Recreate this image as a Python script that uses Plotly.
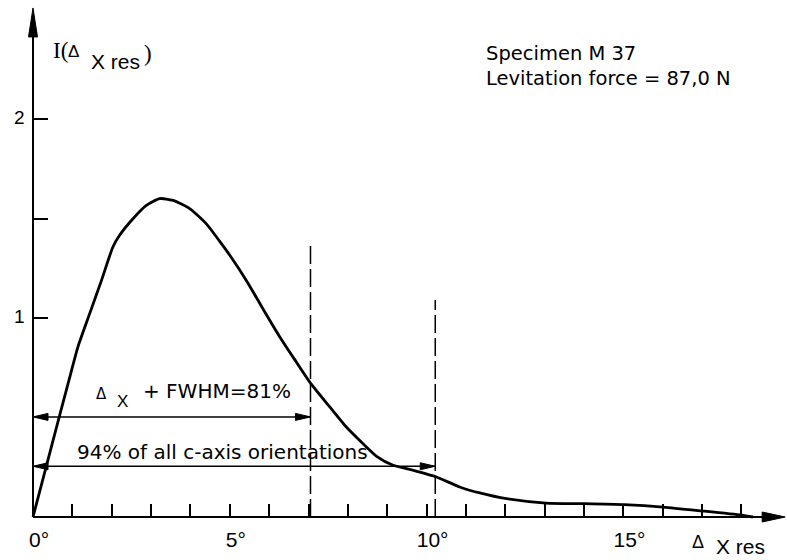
import plotly.graph_objects as go

# ---------------- data ----------------
angle_deg = [0, 0.49, 0.98, 1.14, 1.44, 1.74, 2.03, 2.20, 2.54, 2.88, 3.22, 3.56,
             3.98, 4.40, 4.74, 5.00, 5.42, 5.84, 6.27, 6.69, 7.06, 7.54, 7.96,
             8.34, 8.73, 9.15, 9.65, 10.25, 10.84, 11.35, 12.03, 13.03, 14.02,
             15.02, 16.01, 17.01, 18.00, 18.29]
intensity = [0, 0.37, 0.737, 0.854, 1.022, 1.189, 1.357, 1.416, 1.499, 1.566,
             1.600, 1.591, 1.550, 1.474, 1.386, 1.315, 1.189, 1.047, 0.905,
             0.779, 0.670, 0.553, 0.452, 0.377, 0.305, 0.260, 0.235, 0.201,
             0.151, 0.121, 0.092, 0.070, 0.067, 0.062, 0.050, 0.030, 0.009, 0.0]

x_tick_vals = list(range(0, 19))
x_tick_named = {0: "0°", 5: "5°", 10: "10°", 15: "15°"}
y_tick_vals = [1, 1.5, 2]
y_tick_text = ["1", "", "2"]

fwhm_limit = 7.05      # deg, dashed line / arrow end
fwhm_level = 0.503
fwhm_line_top = 1.38
c94_limit = 10.22
c94_level = 0.255
c94_line_top = 1.09
x_axis_end = 19.11
y_axis_end = 2.558

# ---------------- geometry ----------------
W, H = 787, 560
ML, MR, MT, MB = 23, 0, 4, 33
PX_PER_DEG = 39.36
PX_PER_UNIT = 199.0
X0_PX = 33.0
Y0_PX = 517.0
plot_w = W - ML - MR
plot_h = H - MT - MB
x_min = -(X0_PX - ML) / PX_PER_DEG
x_max = x_min + plot_w / PX_PER_DEG
y_min = -(H - MB - Y0_PX) / PX_PER_UNIT
y_max = y_min + plot_h / PX_PER_UNIT

fig = go.Figure()
fig.add_trace(go.Scatter(
    x=angle_deg, y=intensity, mode="lines",
    line=dict(color="black", width=2.8, shape="spline", smoothing=0.6),
    hoverinfo="skip", showlegend=False))

blk = "black"
shapes = []
# axes
shapes.append(dict(type="line", xref="x", yref="y", x0=0, x1=x_axis_end - 0.3,
                   y0=0, y1=0, line=dict(color=blk, width=2)))
shapes.append(dict(type="line", xref="x", yref="y", x0=0, x1=0,
                   y0=0, y1=y_axis_end - 0.06, line=dict(color=blk, width=2)))


def head(xa, ya, path):
    return dict(type="path", xref="x", yref="y", xsizemode="pixel",
                ysizemode="pixel", xanchor=xa, yanchor=ya, path=path,
                fillcolor=blk, line=dict(color=blk, width=1))


shapes.append(head(x_axis_end, 0, "M-23,-5 L0,0 L-23,5 Z"))
shapes.append(head(0, y_axis_end, "M-4.5,-29 L0,0 L4.5,-29 Z"))

# dashed verticals
for xv, top in [(fwhm_limit, fwhm_line_top), (c94_limit, c94_line_top)]:
    shapes.append(dict(type="line", xref="x", yref="y", x0=xv, x1=xv, y0=0,
                       y1=top, line=dict(color=blk, width=1.5, dash="18px,5px")))

# double arrows
for xe, lvl in [(fwhm_limit, fwhm_level), (c94_limit, c94_level)]:
    shapes.append(dict(type="line", xref="x", yref="y", x0=0, x1=xe, y0=lvl,
                       y1=lvl, line=dict(color=blk, width=1.5)))
    shapes.append(head(xe, lvl, "M-15,-3.5 L0,0 L-15,3.5 Z"))
    shapes.append(head(0, lvl, "M15,-3.5 L0,0 L15,3.5 Z"))

SANS_W = "DejaVu Sans"
SANS = "Liberation Sans, Arial, sans-serif"
SERIF = "Liberation Serif, Times New Roman, serif"


def label(text, px, py, size, family=SANS_W, align="left"):
    # text placed by its pixel position on the page (paper coordinates)
    return dict(text=text, x=(px - ML) / plot_w, y=(H - MB - py) / plot_h,
                xref="paper", yref="paper", align=align,
                xanchor="left", yanchor="middle", showarrow=False,
                font=dict(family=family, size=size, color=blk), borderpad=0)


annotations = [
    label("Specimen M 37<br>Levitation force = 87,0 N", 485, 66, 19.5),
    label("94% of all c-axis orientations", 76, 451.5, 20),
    label("+ FWHM=81%", 142, 391, 20),
    label("Δ", 95, 394, 15),
    label("X", 116, 401.5, 17, SANS),
    # y-axis title pieces
    label("I(", 52, 51, 23, SERIF),
    label("Δ", 67, 52, 17, SANS),
    label("X res", 90, 61.5, 21, SANS),
    label(")", 143, 53.5, 23, SERIF),
    # x-axis title pieces
    label("Δ", 691, 541.5, 18, SANS),
    label("X res", 715, 546.5, 21, SANS),
]

# y tick labels, placed on the y scale just left of the axis
for v, t in zip(y_tick_vals, y_tick_text):
    if t:
        annotations.append(dict(text=t, x=(26 - ML) / plot_w, y=v + 0.008,
                                xref="paper", yref="y", xanchor="right",
                                yanchor="middle", showarrow=False, borderpad=0,
                                font=dict(family=SANS, size=19, color=blk)))

fig.update_layout(
    width=W, height=H,
    margin=dict(l=ML, r=MR, t=MT, b=MB, pad=0),
    paper_bgcolor="white", plot_bgcolor="white",
    showlegend=False,
    shapes=shapes,
    annotations=annotations,
    xaxis=dict(range=[x_min, x_max], anchor="free",
               position=(H - MB - Y0_PX) / plot_h,
               showline=False, showgrid=False, zeroline=False,
               ticks="inside", ticklen=13, tickwidth=1.5, tickcolor=blk,
               tickvals=x_tick_vals,
               ticktext=[x_tick_named.get(v, "") for v in x_tick_vals],
               tickfont=dict(family=SANS, size=21, color=blk),
               ticklabelstandoff=8, ticklabelshift=6, fixedrange=True),
    yaxis=dict(range=[y_min, y_max], anchor="free",
               position=(X0_PX - ML) / plot_w,
               showline=False, showgrid=False, zeroline=False,
               ticks="inside", ticklen=14, tickwidth=1.5, tickcolor=blk,
               tickvals=y_tick_vals, showticklabels=False, fixedrange=True),
)

fig.write_html("out.html")
